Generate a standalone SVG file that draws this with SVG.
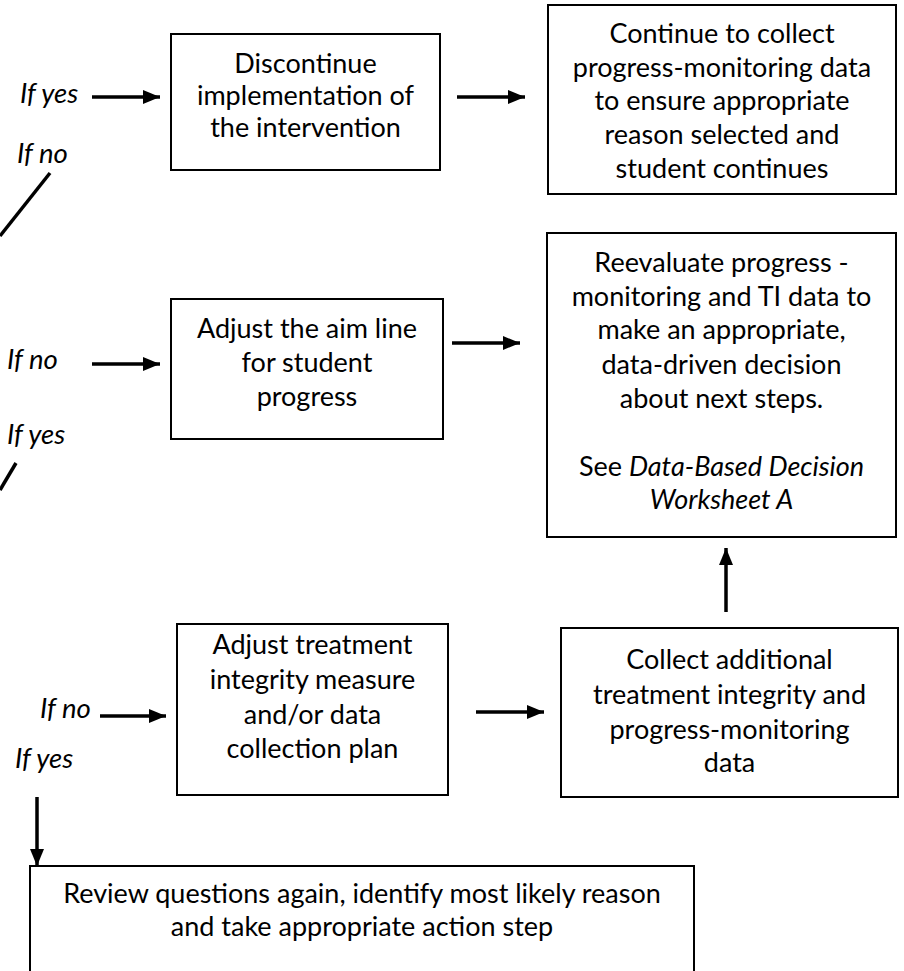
<svg xmlns="http://www.w3.org/2000/svg" width="904" height="971" viewBox="0 0 904 971">
<style>
.box{fill:#fff;stroke:#000;stroke-width:2}
.t{font-family:Lato,"Liberation Sans",sans-serif;font-size:27px;fill:#000;text-anchor:middle}
.i{font-style:italic}
.lbl{font-family:Lato,"Liberation Sans",sans-serif;font-size:27.5px;font-style:italic;fill:#000}
.c{stroke:#000;stroke-width:3.5;fill:none}
</style>
<defs>
<marker id="ah" markerUnits="userSpaceOnUse" markerWidth="18" markerHeight="14" refX="17" refY="7" orient="auto">
<path d="M0,0 L17,7 L0,14 Z" fill="#000"/>
</marker>
</defs>
<rect width="904" height="971" fill="#fff"/>
<g id="labels">
<text class="lbl" x="20" y="103">If yes</text>
<text class="lbl" x="17" y="163">If no</text>
<text class="lbl" x="7" y="369">If no</text>
<text class="lbl" x="7" y="444">If yes</text>
<text class="lbl" x="40" y="718">If no</text>
<text class="lbl" x="15" y="768">If yes</text>
</g>
<g id="connectors">
<line class="c" x1="92" y1="97" x2="160" y2="97" marker-end="url(#ah)"/>
<line class="c" x1="457" y1="97" x2="525" y2="97" marker-end="url(#ah)"/>
<line class="c" x1="92" y1="364" x2="160" y2="364" marker-end="url(#ah)"/>
<line class="c" x1="452" y1="343" x2="520" y2="343" marker-end="url(#ah)"/>
<line class="c" x1="100" y1="716" x2="166" y2="716" marker-end="url(#ah)"/>
<line class="c" x1="476" y1="712" x2="544" y2="712" marker-end="url(#ah)"/>
<line class="c" x1="726" y1="612" x2="726" y2="548" marker-end="url(#ah)"/>
<line class="c" x1="37" y1="797" x2="37" y2="866" marker-end="url(#ah)"/>
<line class="c" x1="50" y1="173" x2="0" y2="236"/>
<line class="c" x1="16" y1="463" x2="0" y2="490"/>
</g>
<g id="discontinue">
<rect class="box" x="171" y="34" width="269" height="136"/>
<text class="t" x="305.5" y="73">Discontinue</text>
<text class="t" x="305.5" y="105">implementation of</text>
<text class="t" x="305.5" y="137">the intervention</text>
</g>
<g id="continue-collect">
<rect class="box" x="548" y="5" width="348" height="189"/>
<text class="t" x="722" y="43">Continue to collect</text>
<text class="t" x="722" y="77">progress-monitoring data</text>
<text class="t" x="722" y="110">to ensure appropriate</text>
<text class="t" x="722" y="144">reason selected and</text>
<text class="t" x="722" y="178">student continues</text>
</g>
<g id="adjust-aim">
<rect class="box" x="171" y="299" width="272" height="140"/>
<text class="t" x="307" y="338">Adjust the aim line</text>
<text class="t" x="307" y="372">for student</text>
<text class="t" x="307" y="406">progress</text>
</g>
<g id="reevaluate">
<rect class="box" x="547" y="233" width="349" height="304"/>
<text class="t" x="721.5" y="272">Reevaluate progress -</text>
<text class="t" x="721.5" y="306">monitoring and TI data to</text>
<text class="t" x="721.5" y="339">make an appropriate,</text>
<text class="t" x="721.5" y="374">data-driven decision</text>
<text class="t" x="721.5" y="408">about next steps.</text>
<text class="t" x="721.5" y="476">See <tspan class="i">Data-Based Decision</tspan></text>
<text class="t i" x="721.5" y="509">Worksheet A</text>
</g>
<g id="adjust-treatment">
<rect class="box" x="177" y="624" width="271" height="171"/>
<text class="t" x="312.5" y="654">Adjust treatment</text>
<text class="t" x="312.5" y="689">integrity measure</text>
<text class="t" x="312.5" y="724">and/or data</text>
<text class="t" x="312.5" y="758">collection plan</text>
</g>
<g id="collect-additional">
<rect class="box" x="561" y="628" width="337" height="169"/>
<text class="t" x="729.5" y="669">Collect additional</text>
<text class="t" x="729.5" y="704">treatment integrity and</text>
<text class="t" x="729.5" y="739">progress-monitoring</text>
<text class="t" x="729.5" y="772">data</text>
</g>
<g id="review">
<rect class="box" x="30" y="866" width="664" height="120"/>
<text class="t" x="362" y="903">Review questions again, identify most likely reason</text>
<text class="t" x="362" y="936">and take appropriate action step</text>
</g>
</svg>
